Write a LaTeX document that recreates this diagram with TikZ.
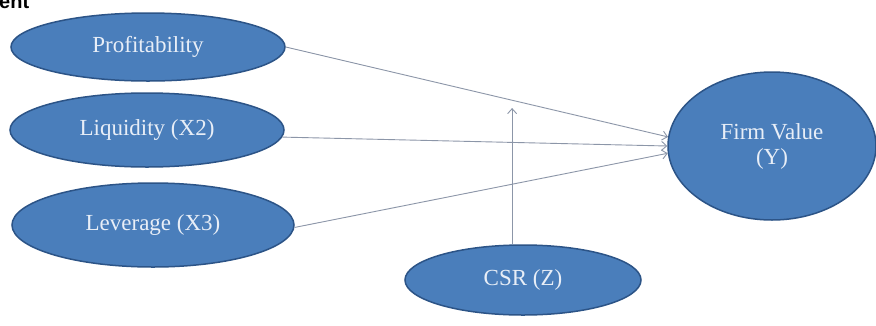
\documentclass[tikz,border=0pt]{standalone}
\usepackage{fontspec}
\setmainfont{Liberation Serif}
\newfontfamily\headsans{Liberation Sans}
\usetikzlibrary{shapes.geometric,arrows.meta}
\definecolor{ovfill}{RGB}{74,126,187}
\definecolor{ovline}{RGB}{44,84,135}
\definecolor{ovtext}{RGB}{232,238,247}
\definecolor{arrcol}{RGB}{140,150,168}
\tikzset{
  oval/.style={ellipse, draw=ovline, line width=1.5pt, fill=ovfill, inner sep=0pt,
    text=ovtext, font=\fontsize{23}{25}\selectfont, align=center},
  arr/.style={draw=arrcol, line width=0.9pt, -{Straight Barb[length=5pt,width=9pt]}}
}
\begin{document}
\begin{tikzpicture}[x=1pt,y=-1pt]
\useasboundingbox (0,0) rectangle (876,325);
\fill[white] (0,0) rectangle (876,325);
\node[anchor=base west, font=\headsans\bfseries\fontsize{20}{22}\selectfont, inner sep=0pt] (head) at (-1,8) {ent};
\node[oval, minimum width=274pt, minimum height=68pt] (prof) at (148,47) {Profitability};
\node[oval, minimum width=274pt, minimum height=74pt] (liq) at (147,130) {Liquidity (X2)};
\node[oval, minimum width=282pt, minimum height=84pt] (lev) at (153,225) {Leverage (X3)};
\node[oval, minimum width=236pt, minimum height=70pt] (csr) at (523,280) {CSR (Z)};
\node[oval, minimum width=208pt, minimum height=148pt] (fv) at (772,146) {Firm Value\\(Y)};
\coordinate (csrtip) at (512,108);
\draw[arr] (prof.east) -- (fv.175);
\draw[arr] (liq.-3.5) -- (fv.180);
\draw[arr] (lev.-1) -- (fv.184);
\draw[arr] (csr.107.5) -- (csr.107.5 |- csrtip);
\end{tikzpicture}
\end{document}
